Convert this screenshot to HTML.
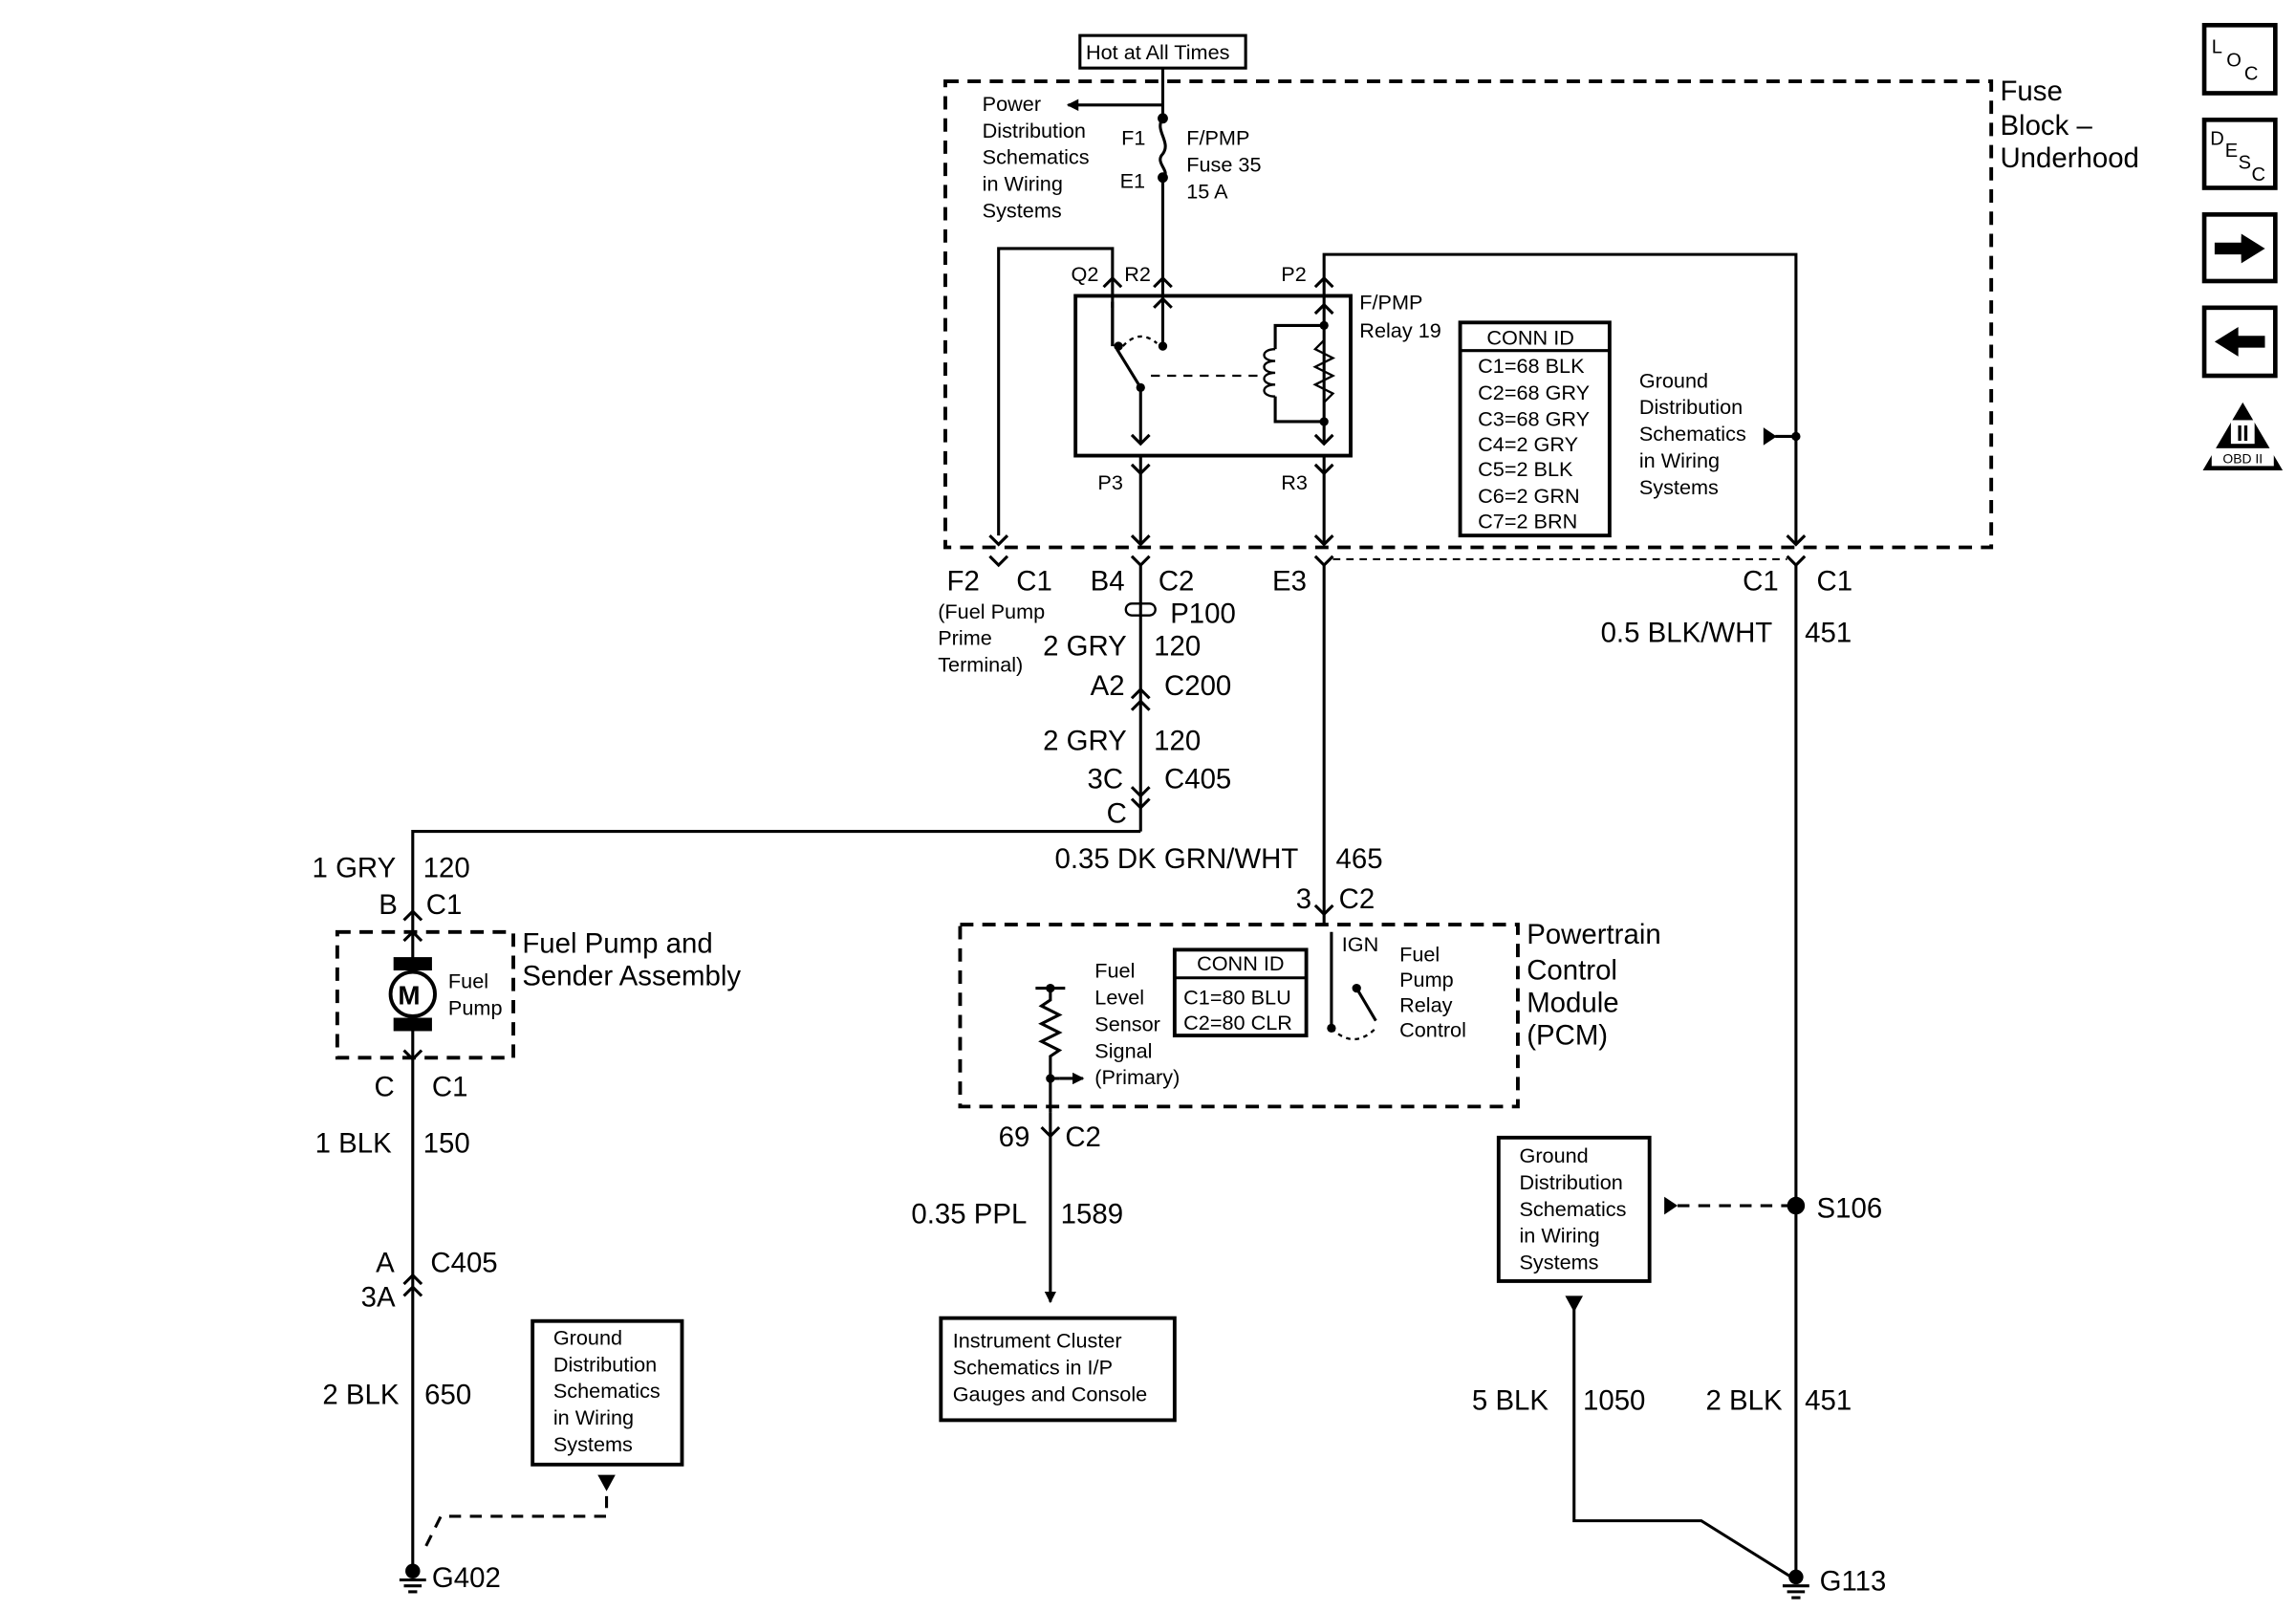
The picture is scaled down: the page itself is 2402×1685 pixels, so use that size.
<!DOCTYPE html>
<html><head><meta charset="utf-8"><style>
html,body{margin:0;padding:0;background:#fff;}
svg{display:block;}
text{font-family:"Liberation Sans",Arial,sans-serif;fill:#000;}
.L{font-size:19px;}
.S{font-size:14px;}
</style></head><body>
<svg width="2402" height="1685" viewBox="0 0 1552 1089" preserveAspectRatio="none" xmlns="http://www.w3.org/2000/svg">
<defs>
<marker id="ah" markerWidth="8" markerHeight="8" refX="7" refY="4" orient="auto" markerUnits="userSpaceOnUse"><path d="M0,0 L8,4 L0,8 z" fill="#000"/></marker>
</defs>
<g stroke="#000" stroke-width="2" fill="none">
<!-- fuse block -->
<rect x="639" y="55" width="707" height="315" stroke-dasharray="9,6" stroke-width="2.5"/>
<rect x="730" y="24" width="112" height="22" stroke-width="2"/>
<line x1="786" y1="46" x2="786" y2="80"/>
<line x1="786" y1="71" x2="722" y2="71" marker-end="url(#ah)"/>
<path d="M786,80 C780,88 792,96 786,104 C780,110 792,116 786,120"/>
<line x1="786" y1="120" x2="786" y2="200"/>
<path d="M780,194 L786,188 L792,194"/>
<!-- Q2 -->
<path d="M675,362 L675,168 L752,168 L752,200"/>
<path d="M669,362 L675,368 L681,362"/>
<path d="M746,194 L752,188 L758,194"/>
<!-- P2 -->
<path d="M895,200 L895,172 L1214,172 L1214,368"/>
<path d="M889,194 L895,188 L901,194"/>
<path d="M1208,362 L1214,368 L1220,362"/>
<!-- relay box -->
<rect x="727" y="200" width="186" height="108" stroke-width="2.5"/>
<line x1="752" y1="200" x2="752" y2="234"/>
<line x1="752" y1="204" x2="752" y2="234" />
<line x1="755" y1="236" x2="771" y2="262"/>
<line x1="771" y1="262" x2="771" y2="300"/>
<path d="M765,294 L771,300 L777,294"/>
<line x1="786" y1="200" x2="786" y2="234"/>
<path d="M780,208 L786,202 L792,208"/>
<path d="M752,208 L752,204"/>
<path d="M759,234 Q770,222 782,232" stroke-dasharray="3,3" stroke-width="1.5"/>
<line x1="778" y1="254" x2="850" y2="254" stroke-dasharray="6,5" stroke-width="1.5"/>
<line x1="895" y1="200" x2="895" y2="300"/>
<path d="M889,294 L895,300 L901,294"/>
<path d="M889,212 L895,206 L901,212"/>
<path d="M895,220 L862,220 L862,236"/>
<path d="M862,236 c-10,0 -10,8 0,8 c-10,0 -10,8 0,8 c-10,0 -10,8 0,8 c-10,0 -10,8 0,8" stroke-width="1.5"/>
<path d="M862,268 L862,285 L895,285"/>
<path d="M895,230 L889,236 L901,242 L889,248 L901,254 L889,260 L901,266 L895,272" stroke-width="1.5"/>
<line x1="771" y1="308" x2="771" y2="368"/>
<path d="M765,314 L771,320 L777,314"/>
<path d="M765,362 L771,368 L777,362"/>
<line x1="895" y1="308" x2="895" y2="368"/>
<path d="M889,314 L895,320 L901,314"/>
<path d="M889,362 L895,368 L901,362"/>
<!-- conn id -->
<rect x="987" y="218" width="101" height="144" stroke-width="2.5"/>
<line x1="987" y1="237" x2="1088" y2="237"/>
<line x1="1200" y1="295" x2="1214" y2="295"/>
<!-- bottom connectors -->
<path d="M669,376 L675,382 L681,376"/>
<path d="M765,376 L771,382 L777,376"/>
<path d="M889,376 L895,382 L901,376"/>
<path d="M1208,376 L1214,382 L1220,376"/>
<line x1="901" y1="378" x2="1208" y2="378" stroke-dasharray="5,4" stroke-width="1.3"/>
<line x1="771" y1="382" x2="771" y2="562"/>
<rect x="761" y="408" width="20" height="8" rx="4" stroke-width="1.5"/>
<path d="M765,472 L771,466 L777,472"/><path d="M765,480 L771,474 L777,480"/>
<path d="M765,532 L771,538 L777,532"/><path d="M765,540 L771,546 L777,540"/>
<path d="M771,562 L279,562 L279,630"/>
<path d="M273,622 L279,616 L285,622"/>
<path d="M273,636 L279,630 L285,636"/>
<line x1="895" y1="382" x2="895" y2="625"/>
<path d="M889,612 L895,618 L901,612"/>
<line x1="1214" y1="382" x2="1214" y2="1068"/>
<!-- fuel pump -->
<rect x="228" y="630" width="119" height="85" stroke-dasharray="9,6" stroke-width="2.5"/>
<line x1="279" y1="630" x2="279" y2="655"/>
<line x1="279" y1="690" x2="279" y2="1062"/>
<circle cx="279" cy="672" r="15" stroke-width="2.5"/>
<path d="M273,710 L279,716 L285,710"/>
<path d="M273,868 L279,862 L285,868"/><path d="M273,876 L279,870 L285,876"/>
<rect x="360" y="893" width="101" height="97" stroke-width="2.5"/>
<path d="M288,1045 L298,1025 L410,1025 L410,1010" stroke-dasharray="8,6"/>
<!-- PCM -->
<rect x="649" y="625" width="377" height="123" stroke-dasharray="9,6" stroke-width="2.5"/>
<rect x="794" y="642" width="89" height="58" stroke-width="2.5"/>
<line x1="794" y1="661" x2="883" y2="661"/>
<path d="M710,668 L710,676 L704,680 L716,686 L704,692 L716,698 L704,704 L716,710 L710,714 L710,752"/>
<line x1="700" y1="668" x2="720" y2="668"/>
<line x1="716" y1="729" x2="732" y2="729" marker-end="url(#ah)"/>
<line x1="710" y1="729" x2="716" y2="729"/>
<path d="M704,762 L710,768 L716,762"/>
<line x1="710" y1="752" x2="710" y2="880" marker-end="url(#ah)"/>
<line x1="900" y1="630" x2="900" y2="695"/>
<line x1="888" y1="630" x2="912" y2="630" stroke-width="0"/>
<line x1="917" y1="668" x2="930" y2="690"/>
<path d="M900,695 Q915,710 930,695" stroke-dasharray="3,3" stroke-width="1.5"/>
<rect x="636" y="891" width="158" height="69" stroke-width="2.5"/>
<!-- right ground -->
<rect x="1013" y="769" width="102" height="97" stroke-width="2.5"/>
<line x1="1134" y1="815" x2="1214" y2="815" stroke-dasharray="8,6"/>
<path d="M1064,884 L1064,1028 L1150,1028 L1214,1068"/>
<!-- icons -->
<rect x="1490" y="17" width="48" height="46" stroke-width="3"/>
<rect x="1490" y="81" width="48" height="46" stroke-width="3"/>
<rect x="1490" y="145" width="48" height="45" stroke-width="3"/>
<rect x="1490" y="208" width="48" height="46" stroke-width="3"/>
</g>
<!-- filled items -->
<g fill="#000">
<circle cx="786" cy="80" r="3.5"/><circle cx="786" cy="120" r="3.5"/>
<circle cx="756" cy="234" r="3"/><circle cx="786" cy="234" r="3"/><circle cx="771" cy="262" r="3"/>
<circle cx="895" cy="220" r="3"/><circle cx="895" cy="285" r="3"/>
<circle cx="1214" cy="295" r="3"/>
<path d="M1192,289 L1201,295 L1192,301z"/>
<rect x="266" y="647" width="26" height="9"/><rect x="266" y="688" width="26" height="9"/>
<path d="M404,997 L416,997 L410,1008z"/>
<circle cx="710" cy="668" r="3"/><circle cx="710" cy="729" r="3"/>
<circle cx="917" cy="668" r="3"/><circle cx="900" cy="695" r="3"/>
<circle cx="1214" cy="815" r="6"/>
<path d="M1125,809 L1134,815 L1125,821z"/>
<path d="M1058,876 L1070,876 L1064,887z"/>
<circle cx="279" cy="1062" r="5"/><circle cx="1214" cy="1066" r="5"/>
<path d="M1497,168 L1515,168 L1515,160 L1531,168 L1515,176 L1515,168z M1497,164 L1515,164 L1515,172 L1497,172z"/>
<path d="M1515,158 L1531,168 L1515,178z"/>
<path d="M1531,227 L1513,227 L1513,235 L1531,235z M1513,221 L1497,231 L1513,241z"/>
<path d="M1516,272 L1543,318 L1489,318z"/>
</g>
<g stroke="#000" stroke-width="2">
<line x1="270" y1="1068" x2="288" y2="1068"/><line x1="273" y1="1072" x2="285" y2="1072"/><line x1="276" y1="1076" x2="282" y2="1076"/>
<line x1="1205" y1="1072" x2="1223" y2="1072"/><line x1="1208" y1="1076" x2="1220" y2="1076"/><line x1="1211" y1="1080" x2="1217" y2="1080"/>
</g>
<rect x="1495" y="303" width="42" height="12" fill="#fff"/>
<rect x="1508" y="284" width="16" height="16" fill="#fff"/>
<text x="1516" y="298" font-size="15" font-weight="bold" text-anchor="middle">II</text>
<text x="1516" y="313" font-size="9" text-anchor="middle">OBD II</text>
<text x="1495" y="36" font-size="13">L</text><text x="1505" y="45" font-size="13">O</text><text x="1517" y="54" font-size="13">C</text>
<text x="1494" y="98" font-size="13">D</text><text x="1504" y="106" font-size="13">E</text><text x="1513" y="114" font-size="13">S</text><text x="1522" y="122" font-size="13">C</text>

<text class="S" x="734" y="40">Hot at All Times</text>
<text class="L" x="1352" y="68">Fuse</text><text class="L" x="1352" y="91">Block –</text><text class="L" x="1352" y="113">Underhood</text>
<g class="S">
<text x="664" y="75">Power</text><text x="664" y="93">Distribution</text><text x="664" y="111">Schematics</text><text x="664" y="129">in Wiring</text><text x="664" y="147">Systems</text>
<text x="758" y="98">F1</text><text x="757" y="127">E1</text>
<text x="802" y="98">F/PMP</text><text x="802" y="116">Fuse 35</text><text x="802" y="134">15 A</text>
<text x="724" y="190">Q2</text><text x="760" y="190">R2</text><text x="866" y="190">P2</text>
<text x="919" y="209">F/PMP</text><text x="919" y="228">Relay 19</text>
<text x="742" y="331">P3</text><text x="866" y="331">R3</text>
<text x="1005" y="233">CONN ID</text>
<text x="999" y="252">C1=68 BLK</text><text x="999" y="270">C2=68 GRY</text><text x="999" y="288">C3=68 GRY</text><text x="999" y="305">C4=2 GRY</text><text x="999" y="322">C5=2 BLK</text><text x="999" y="340">C6=2 GRN</text><text x="999" y="357">C7=2 BRN</text>
<text x="1108" y="262">Ground</text><text x="1108" y="280">Distribution</text><text x="1108" y="298">Schematics</text><text x="1108" y="316">in Wiring</text><text x="1108" y="334">Systems</text>
<text x="634" y="418">(Fuel Pump</text><text x="634" y="436">Prime</text><text x="634" y="454">Terminal)</text>
<text x="303" y="668">Fuel</text><text x="303" y="686">Pump</text>
<text x="374" y="909">Ground</text><text x="374" y="927">Distribution</text><text x="374" y="945">Schematics</text><text x="374" y="963">in Wiring</text><text x="374" y="981">Systems</text>
<text x="740" y="661">Fuel</text><text x="740" y="679">Level</text><text x="740" y="697">Sensor</text><text x="740" y="715">Signal</text><text x="740" y="733">(Primary)</text>
<text x="809" y="656">CONN ID</text><text x="800" y="679">C1=80 BLU</text><text x="800" y="696">C2=80 CLR</text>
<text x="907" y="643">IGN</text>
<text x="946" y="650">Fuel</text><text x="946" y="667">Pump</text><text x="946" y="684">Relay</text><text x="946" y="701">Control</text>
<text x="644" y="911">Instrument Cluster</text><text x="644" y="929">Schematics in I/P</text><text x="644" y="947">Gauges and Console</text>
<text x="1027" y="786">Ground</text><text x="1027" y="804">Distribution</text><text x="1027" y="822">Schematics</text><text x="1027" y="840">in Wiring</text><text x="1027" y="858">Systems</text>
</g>
<g class="L">
<text x="640" y="399">F2</text><text x="687" y="399">C1</text>
<text x="737" y="399">B4</text><text x="783" y="399">C2</text>
<text x="860" y="399">E3</text>
<text x="1178" y="399">C1</text><text x="1228" y="399">C1</text>
<text x="791" y="421">P100</text>
<text x="705" y="443">2 GRY</text><text x="780" y="443">120</text>
<text x="737" y="470">A2</text><text x="787" y="470">C200</text>
<text x="705" y="507">2 GRY</text><text x="780" y="507">120</text>
<text x="735" y="533">3C</text><text x="787" y="533">C405</text>
<text x="748" y="556">C</text>
<text x="1082" y="434">0.5 BLK/WHT</text><text x="1220" y="434">451</text>
<text x="713" y="587">0.35 DK GRN/WHT</text><text x="903" y="587">465</text>
<text x="876" y="614">3</text><text x="905" y="614">C2</text>
<text x="211" y="593">1 GRY</text><text x="286" y="593">120</text>
<text x="256" y="618">B</text><text x="288" y="618">C1</text>
<text x="353" y="644">Fuel Pump and</text><text x="353" y="666">Sender Assembly</text>
<text x="269" y="679" font-size="18" font-weight="bold">M</text>
<text x="253" y="741">C</text><text x="292" y="741">C1</text>
<text x="213" y="779">1 BLK</text><text x="286" y="779">150</text>
<text x="254" y="860">A</text><text x="291" y="860">C405</text><text x="244" y="883">3A</text>
<text x="218" y="949">2 BLK</text><text x="287" y="949">650</text>
<text x="292" y="1073">G402</text>
<text x="1032" y="638">Powertrain</text><text x="1032" y="662">Control</text><text x="1032" y="684">Module</text><text x="1032" y="706">(PCM)</text>
<text x="675" y="775">69</text><text x="720" y="775">C2</text>
<text x="616" y="827">0.35 PPL</text><text x="717" y="827">1589</text>
<text x="1228" y="823">S106</text>
<text x="995" y="953">5 BLK</text><text x="1070" y="953">1050</text>
<text x="1153" y="953">2 BLK</text><text x="1220" y="953">451</text>
<text x="1230" y="1075">G113</text>
</g>
</svg>
</body></html>
